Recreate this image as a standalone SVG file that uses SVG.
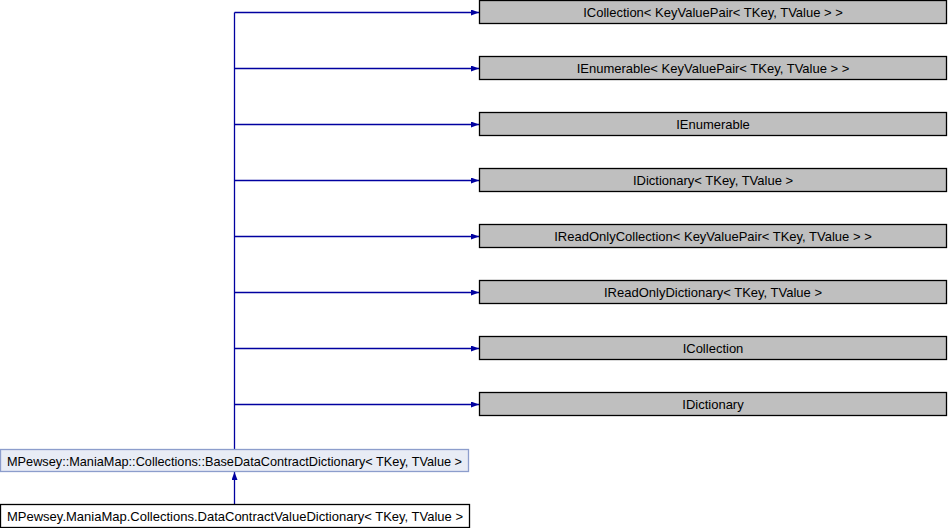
<svg xmlns="http://www.w3.org/2000/svg" width="948" height="528" viewBox="0 0 948 528">
<defs>
<marker id="ah" viewBox="0 0 8 6" refX="8" refY="3" markerWidth="8" markerHeight="6" markerUnits="userSpaceOnUse" orient="auto">
<path d="M0,0 L8,3 L0,6 Z" fill="#0000a0"/>
</marker>
<style>
.iface rect{fill:#bfbfbf;stroke:#000;stroke-width:1.3}
.base rect{fill:#e8ecf5;stroke:#8c9dcc;stroke-width:1.3}
.leaf rect{fill:#fff;stroke:#000;stroke-width:1.3}
text{font-family:"Liberation Sans",Arial,sans-serif;font-size:13px;fill:#000;text-anchor:middle}
.conn line,.conn path{stroke:#0000a0;stroke-width:1.3;fill:none}
</style>
</defs>
<rect width="948" height="528" fill="#fff"/>
<g class="conn" id="connectors">
<line x1="234.5" y1="449" x2="234.5" y2="12.5"/>
<line x1="234.5" y1="12.5" x2="479" y2="12.5" marker-end="url(#ah)"/>
<line x1="234.5" y1="68.5" x2="479" y2="68.5" marker-end="url(#ah)"/>
<line x1="234.5" y1="124.5" x2="479" y2="124.5" marker-end="url(#ah)"/>
<line x1="234.5" y1="180.5" x2="479" y2="180.5" marker-end="url(#ah)"/>
<line x1="234.5" y1="236.5" x2="479" y2="236.5" marker-end="url(#ah)"/>
<line x1="234.5" y1="292.5" x2="479" y2="292.5" marker-end="url(#ah)"/>
<line x1="234.5" y1="348.5" x2="479" y2="348.5" marker-end="url(#ah)"/>
<line x1="234.5" y1="404.5" x2="479" y2="404.5" marker-end="url(#ah)"/>
<line x1="234.5" y1="504.5" x2="234.5" y2="472" marker-end="url(#ah)"/>
</g>
<g class="iface" id="n1"><rect x="479.5" y="0.5" width="467" height="23"/><text x="713" y="17">ICollection&lt; KeyValuePair&lt; TKey, TValue &gt; &gt;</text></g>
<g class="iface" id="n2"><rect x="479.5" y="56.5" width="467" height="23"/><text x="713" y="73">IEnumerable&lt; KeyValuePair&lt; TKey, TValue &gt; &gt;</text></g>
<g class="iface" id="n3"><rect x="479.5" y="112.5" width="467" height="23"/><text x="713" y="129">IEnumerable</text></g>
<g class="iface" id="n4"><rect x="479.5" y="168.5" width="467" height="23"/><text x="713" y="185">IDictionary&lt; TKey, TValue &gt;</text></g>
<g class="iface" id="n5"><rect x="479.5" y="224.5" width="467" height="23"/><text x="713" y="241">IReadOnlyCollection&lt; KeyValuePair&lt; TKey, TValue &gt; &gt;</text></g>
<g class="iface" id="n6"><rect x="479.5" y="280.5" width="467" height="23"/><text x="713" y="297">IReadOnlyDictionary&lt; TKey, TValue &gt;</text></g>
<g class="iface" id="n7"><rect x="479.5" y="336.5" width="467" height="23"/><text x="713" y="353">ICollection</text></g>
<g class="iface" id="n8"><rect x="479.5" y="392.5" width="467" height="23"/><text x="713" y="409">IDictionary</text></g>
<g class="base" id="base"><rect x="0.5" y="449.5" width="468" height="22"/><text x="234.5" y="465.5" textLength="455" lengthAdjust="spacingAndGlyphs">MPewsey::ManiaMap::Collections::BaseDataContractDictionary&lt; TKey, TValue &gt;</text></g>
<g class="leaf" id="leaf"><rect x="0.5" y="504.5" width="469" height="23"/><text x="235" y="521" textLength="456" lengthAdjust="spacingAndGlyphs">MPewsey.ManiaMap.Collections.DataContractValueDictionary&lt; TKey, TValue &gt;</text></g>
</svg>
